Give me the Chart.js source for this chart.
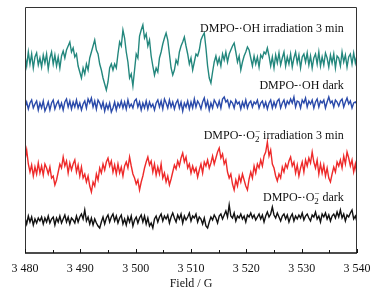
<!DOCTYPE html>
<html><head><meta charset="utf-8">
<script src="https://cdn.jsdelivr.net/npm/chart.js@4/dist/chart.umd.min.js"></script>
<style>html,body{margin:0;padding:0;background:#fff;}#wrap{width:375px;height:291px;}</style>
</head><body><div id="wrap"><canvas id="c" width="375" height="291"></canvas></div>
<script>
// ---- data ----
const fieldStart = 3480;
const fieldStep = 0.3;
const xTicks = [3480, 3490, 3500, 3510, 3520, 3530, 3540];
const seriesNames = ["DMPO-·OH irradiation 3 min", "DMPO-·OH dark", "DMPO-·O2− irradiation 3 min", "DMPO-·O2− dark"];
const offsets = [193, 148, 83, 33];

const ohIrradiation = [
 4,-6,8,-4,6,-8,3,7,-5,2,
 -7,5,-3,6,-9,2,8,-4,5,-6,
 3,-8,4,9,2,10,14,18,8,12,
 3,6,-6,-12,-18,-8,-14,-4,-10,2,
 8,14,20,10,6,-4,-10,-18,-24,-30,
 -22,-8,-4,-10,-4,-8,6,18,14,30,
 22,8,-2,-18,-14,-26,-10,6,2,24,
 30,35,22,26,14,20,4,-6,-15,-8,
 -12,2,8,16,22,27,20,6,-8,-15,
 -10,0,-4,8,14,18,23,14,6,-4,
 2,-10,-2,6,4,10,20,24,27,12,
 -6,-18,-23,-12,-2,4,-4,2,-6,6,
 0,8,-2,6,10,14,17,8,-2,4,
 -10,-2,4,8,13,10,2,-6,4,-4,
 3,-7,5,2,8,6,12,4,-6,3,
 -8,5,-3,7,-5,2,8,-6,3,-4,
 6,-7,2,8,-3,5,-8,3,6,-2,
 7,-5,4,-8,2,6,-4,8,-6,3,
 -5,7,2,-7,5,-3,6,-8,4,2,
 -6,8,-2,5,-7,3,6,-4,7,-3,
 5];

const ohDark = [
 -2,3,-4,2,5,-3,1,4,-5,2,
 -3,4,-6,-2,3,-5,2,5,-4,1,
 4,-3,2,-5,3,6,-2,4,-4,3,
 -2,5,-3,2,-5,1,4,-3,6,2,
 7,-2,4,-4,5,2,-3,3,-6,1,
 -4,2,-7,-3,3,-5,2,-2,4,-3,
 3,-4,5,-2,1,-3,4,6,-2,3,
 -5,2,-3,4,-4,3,-2,1,-5,2,
 5,-2,4,-4,6,2,-3,5,-2,3,
 -4,2,5,-3,3,-6,2,-2,4,-4,
 3,-3,6,-2,4,1,-4,3,7,-2,
 4,-5,2,-3,5,2,-2,4,-3,6,
 8,3,5,-2,4,2,-3,5,1,3,
 -4,3,-2,5,-3,2,4,-2,3,1,
 5,-3,2,4,-2,3,-4,2,5,-3,
 3,-2,4,6,-3,2,5,-2,4,1,
 6,2,8,-2,4,3,-3,5,2,7,
 -2,4,1,5,-3,3,6,-2,4,2,
 5,-3,3,8,2,4,-2,5,3,-1,
 4,6,-2,3,7,1,4,-3,2,3,
 1];

const o2Irradiation = [
 10,20,6,-2,5,-6,3,-4,7,-3,
 4,-5,6,2,-4,3,-8,-6,-15,-10,
 -2,6,2,13,4,9,-3,7,0,6,
 10,-2,5,-6,3,-8,-4,-12,-6,-16,
 -22,-12,-16,-4,-10,2,-3,6,0,8,
 12,4,9,-2,5,-4,6,-3,3,-6,
 4,8,2,13,4,-4,-8,-14,-10,-20,
 -12,-6,2,8,13,5,9,-2,6,-5,
 3,-4,6,-8,-3,-12,-6,-15,-9,-2,
 5,1,9,4,12,17,8,13,2,6,
 -3,4,-2,2,-7,0,6,-3,8,4,
 10,2,7,14,6,12,18,22,12,16,
 6,10,-2,-8,-4,-14,-20,-10,-16,-6,
 -12,-4,-10,-16,-20,-9,-2,-8,4,-3,
 6,2,10,4,14,18,28,14,20,6,
 2,-6,-11,-4,-8,3,-2,6,2,9,
 13,4,8,-3,5,-6,2,8,-2,10,
 4,12,7,18,8,2,10,-4,6,-3,
 5,-6,2,-8,-12,-4,3,-2,8,4,
 10,2,14,6,18,12,4,10,-2,6,
 -5];

const o2Dark = [
 2,-4,4,-2,3,-5,1,-3,2,-1,
 3,-4,2,-2,4,-3,1,3,-5,2,
 -2,4,-3,1,5,-2,3,-4,2,0,
 -3,4,-2,3,6,1,10,-1,3,-4,
 2,-5,1,-3,-6,-8,-2,3,-4,2,
 5,-2,3,6,-1,4,-3,2,5,-4,
 1,-5,3,-2,4,-6,0,3,-3,2,
 5,-2,4,-4,2,-6,-3,-8,1,4,
 -2,3,6,-1,4,1,5,-3,3,7,
 2,-2,5,1,6,-3,4,0,3,7,
 -1,4,2,6,-2,3,1,-4,2,-6,
 -8,-2,3,0,5,2,-3,4,6,1,
 5,9,3,15,4,2,7,-1,4,2,
 6,1,4,-2,5,3,7,2,5,0,
 3,6,1,5,-2,4,8,3,6,13,
 5,2,7,3,-1,4,6,1,5,-2,
 3,6,-1,4,1,5,2,7,0,4,
 6,2,-1,5,3,8,1,4,-2,6,
 3,7,1,5,-1,4,6,2,8,3,
 10,2,6,-1,5,3,7,10,1,4,
 -2];

const seriesValues = [ohIrradiation, ohDark, o2Irradiation, o2Dark];
const seriesColors = ["#23877d", "#2a4aaa", "#ee2a2a", "#111111"];

// ---- build ----
const SERIF = "'Liberation Serif','Times New Roman',serif";
const datasets = seriesValues.map((vals, k) => ({
  label: seriesNames[k],
  data: vals.map((v, i) => ({ x: fieldStart + i * fieldStep, y: v + offsets[k] })),
  borderColor: seriesColors[k],
  borderWidth: 1.4,
  pointRadius: 0,
  tension: 0,
  fill: false
}));

const labelSpecs = [
  { k: 0, y: 225 }, { k: 1, y: 168 }, { k: 2, y: 118 }, { k: 3, y: 56 }
];

const decor = {
  id: 'decor',
  afterDraw(chart) {
    const { ctx, chartArea: a, scales: { x, y } } = chart;
    ctx.save();
    ctx.strokeStyle = '#333';
    ctx.lineWidth = 1;
    ctx.beginPath();
    ctx.moveTo(a.left + 0.5, a.bottom); ctx.lineTo(a.left + 0.5, a.top + 0.5);
    ctx.lineTo(a.right - 0.5, a.top + 0.5); ctx.lineTo(a.right - 0.5, a.bottom);
    ctx.stroke();
    ctx.strokeStyle = '#111';
    ctx.lineWidth = 1.5;
    ctx.beginPath(); ctx.moveTo(a.left, a.bottom); ctx.lineTo(a.right, a.bottom); ctx.stroke();
    ctx.lineWidth = 1;
    const tickVals = [];
    xTicks.forEach((t, i) => { tickVals.push([t, 4]); if (i < xTicks.length - 1) tickVals.push([(t + xTicks[i + 1]) / 2, 3]); });
    tickVals.forEach(([v, len]) => {
      const px = Math.round(x.getPixelForValue(v)) + 0.5;
      ctx.beginPath(); ctx.moveTo(px, a.bottom); ctx.lineTo(px, a.bottom - len); ctx.stroke();
    });
    const right = x.getPixelForValue(3537.6);
    ctx.fillStyle = '#111';
    ctx.textBaseline = 'alphabetic';
    labelSpecs.forEach(s => {
      const name = seriesNames[s.k];
      const py = y.getPixelForValue(s.y) + 4;
      const m = name.indexOf('O2−');
      ctx.font = '12px ' + SERIF;
      if (m < 0) {
        ctx.textAlign = 'right';
        ctx.fillText(name, right, py);
      } else {
        const pre = name.slice(0, m + 1), post = name.slice(m + 3);
        ctx.font = '12px ' + SERIF;
        const wPre = ctx.measureText(pre).width, wPost = ctx.measureText(post).width;
        ctx.font = '9px ' + SERIF;
        const wSub = Math.max(ctx.measureText('2').width, ctx.measureText('−').width);
        const start = right - wPre - wSub - wPost;
        ctx.textAlign = 'left';
        ctx.font = '12px ' + SERIF;
        ctx.fillText(pre, start, py);
        ctx.font = '9px ' + SERIF;
        ctx.fillText('2', start + wPre, py + 3);
        ctx.fillText('−', start + wPre, py - 5);
        ctx.font = '12px ' + SERIF;
        ctx.fillText(post, start + wPre + wSub, py);
      }
    });
    ctx.restore();
  }
};

new Chart(document.getElementById('c'), {
  type: 'line',
  data: { datasets },
  options: {
    responsive: false,
    animation: false,
    devicePixelRatio: 1,
    layout: { padding: { left: 25, right: 18, top: 7, bottom: 0 } },
    plugins: { legend: { display: false }, tooltip: { enabled: false } },
    scales: {
      x: {
        type: 'linear', min: 3480, max: 3540,
        afterFit(s) { s.height = 38; },
        grid: { display: false },
        border: { display: false },
        ticks: {
          stepSize: 10, autoSkip: false, maxRotation: 0, padding: 1,
          color: '#111', font: { family: SERIF, size: 12 },
          callback: v => String(v).replace(/(\d)(\d{3})$/, '$1 $2')
        },
        title: { display: true, text: 'Field / G', color: '#111', font: { family: SERIF, size: 12 }, padding: { top: 0, bottom: 0 } }
      },
      y: { display: false, min: 0, max: 246 }
    }
  },
  plugins: [decor]
});
</script>
</body></html>
